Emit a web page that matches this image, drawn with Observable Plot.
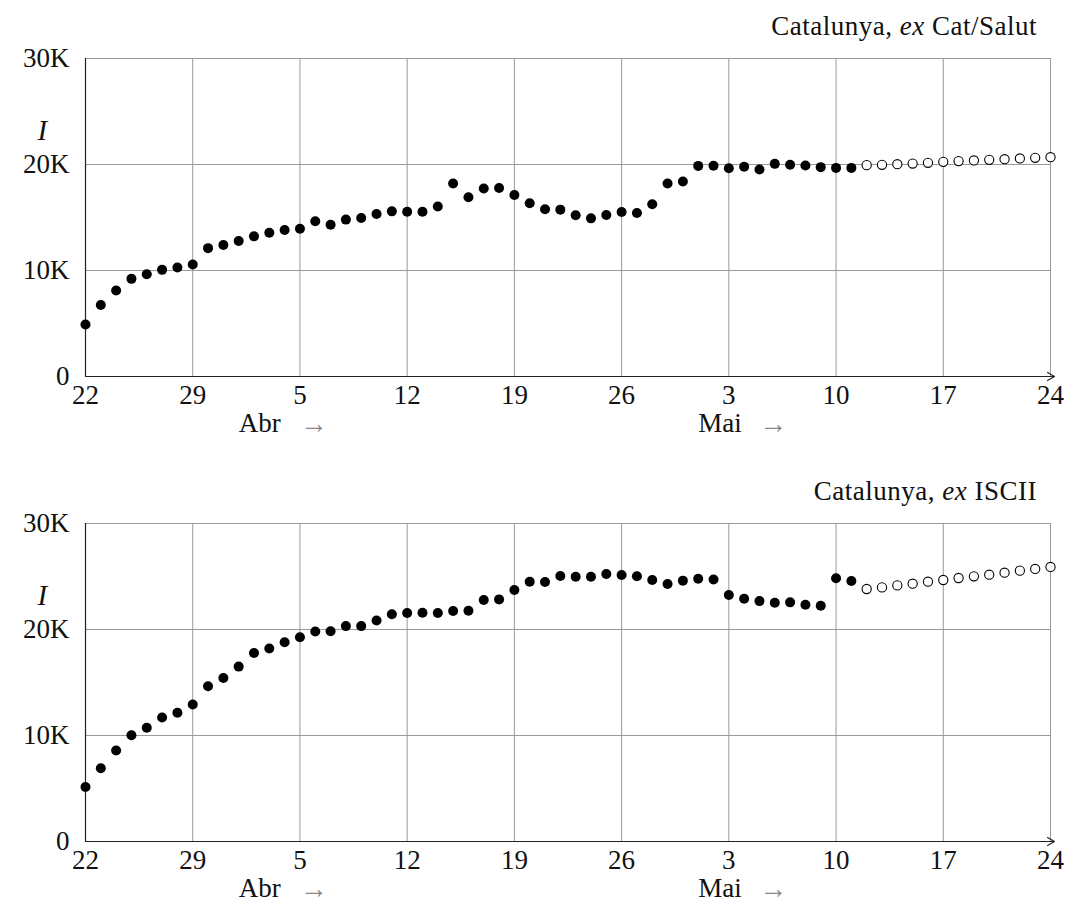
<!DOCTYPE html>
<html>
<head>
<meta charset="utf-8">
<script src="https://cdn.jsdelivr.net/npm/d3@7"></script>
<script src="https://cdn.jsdelivr.net/npm/@observablehq/plot@0.6"></script>
<style>
  body { margin: 0; background: #fff; }
  #wrap { position: relative; width: 1070px; height: 907px; font-family: "Liberation Serif", serif; }
  .panel { position: absolute; left: 0; width: 1070px; height: 442px; }
  .title { position: absolute; right: 33px; font-size: 27px; line-height: 1; color: #111; white-space: nowrap; letter-spacing: 0.5px; }
  svg { display: block; }
</style>
</head>
<body>
<div id="wrap"></div>
<script>
// ---- data ----
const startDate = "2020-03-22";
const endDate = "2020-05-24";
const weekTicks = ["2020-03-22","2020-03-29","2020-04-05","2020-04-12","2020-04-19","2020-04-26","2020-05-03","2020-05-10","2020-05-17","2020-05-24"];
const yTicks = [0, 10000, 20000, 30000];
const yTickLabels = ["0", "10K", "20K", "30K"];
const monthStarts = ["2020-04-01", "2020-05-01"];
const monthLabels = ["Abr", "Mai"];
const yLabel = "I";

const titles = ["Catalunya, <i>ex</i> Cat/Salut", "Catalunya, <i>ex</i> ISCII"];

// observed: Mar 22 .. May 11 (one per day)
const catSalutObs = [4900, 6750, 8110, 9210, 9650, 10060, 10280, 10570, 12110, 12400,
  12780, 13220, 13560, 13820, 13940, 14640, 14320, 14800, 14950, 15330,
  15580, 15550, 15550, 16030, 18200, 16910, 17730, 17790, 17130, 16340,
  15770, 15740, 15210, 14920, 15240, 15520, 15430, 16250, 18200, 18390,
  19870, 19890, 19650, 19780, 19530, 20060, 19970, 19900, 19750, 19680, 19680];
// projected: May 12 .. May 24
const catSalutProj = [19940, 19970, 20030, 20090, 20160, 20250, 20320, 20380, 20440, 20500, 20570, 20630, 20690];

const isciiObs = [5140, 6910, 8580, 10030, 10730, 11700, 12150, 12930, 14640, 15430,
  16500, 17790, 18200, 18800, 19270, 19810, 19840, 20320, 20320, 20850,
  21440, 21550, 21580, 21550, 21740, 21770, 22780, 22840, 23720, 24510,
  24480, 25050, 24980, 24980, 25240, 25140, 25020, 24670, 24290, 24610,
  24790, 24720, 23250, 22900, 22680, 22520, 22560, 22330, 22240, 24830, 24570];
const isciiProj = [23820, 23970, 24160, 24320, 24510, 24670, 24860, 25020, 25170, 25360, 25550, 25710, 25900];

// ---- build ----
const parse = d3.utcParse("%Y-%m-%d");
const t0 = parse(startDate);
const obsDay = i => d3.utcDay.offset(t0, i);
const projDay = i => d3.utcDay.offset(t0, catSalutObs.length + i);
const FONT = "Liberation Serif, serif";
const FS = 27;

function panel(obs, proj) {
  const obsData = obs.map((v, i) => ({date: obsDay(i), v}));
  const projData = proj.map((v, i) => ({date: projDay(i), v}));
  const ticks = weekTicks.map(parse);
  const months = monthStarts.map((d, i) => ({date: parse(d), label: monthLabels[i]}));
  return Plot.plot({
    width: 1070,
    height: 442,
    marginTop: 58,
    marginBottom: 66,
    marginLeft: 85,
    marginRight: 20,
    style: {fontFamily: FONT, fontSize: FS + "px", color: "#111", background: "white", overflow: "visible"},
    x: {type: "utc", domain: [parse(startDate), parse(endDate)], label: null},
    y: {domain: [0, 30000], label: null},
    marks: [
      Plot.gridX(ticks, {stroke: "#999", strokeOpacity: 1, strokeWidth: 1}),
      Plot.gridY(yTicks, {stroke: "#999", strokeOpacity: 1, strokeWidth: 1}),
      Plot.axisX({ticks, tickSize: 0, tickPadding: 8, tickFormat: d => d.getUTCDate(), fontSize: FS, fill: "#111", label: null}),
      Plot.axisY({ticks: yTicks, tickSize: 0, tickPadding: 16, tickFormat: d => yTickLabels[yTicks.indexOf(d)], fontSize: FS, fill: "#111", label: null}),
      Plot.ruleX([parse(startDate)], {stroke: "#222", strokeWidth: 1.2}),
      Plot.arrow([0], {x1: () => parse(startDate), x2: () => parse(endDate), y1: 0, y2: 0, stroke: "#222", strokeWidth: 1.2, headLength: 10, insetEnd: -4}),
      Plot.text(months, {x: "date", text: "label", frameAnchor: "bottom", textAnchor: "start", dy: 55, fontSize: FS, fill: "#111"}),
      Plot.text(months, {x: "date", text: () => "→", frameAnchor: "bottom", textAnchor: "start", dx: 61, dy: 56, fontSize: 28, fill: "#888"}),
      Plot.text([yLabel], {frameAnchor: "top-left", dx: -48, dy: 61, fontStyle: "italic", fontSize: 29, fill: "#111"}),
      Plot.dot(obsData, {x: "date", y: "v", r: 5, fill: "black", stroke: "none"}),
      Plot.dot(projData, {x: "date", y: "v", r: 4.6, fill: "white", stroke: "black", strokeWidth: 1.1})
    ]
  });
}

const wrap = document.getElementById("wrap");
const series = [[catSalutObs, catSalutProj], [isciiObs, isciiProj]];
series.forEach(([o, p], k) => {
  const div = document.createElement("div");
  div.className = "panel";
  div.style.top = (k * 465) + "px";
  div.appendChild(panel(o, p));
  const t = document.createElement("div");
  t.className = "title";
  t.style.top = "13px";
  t.innerHTML = titles[k];
  div.appendChild(t);
  wrap.appendChild(div);
});
</script>
</body>
</html>
